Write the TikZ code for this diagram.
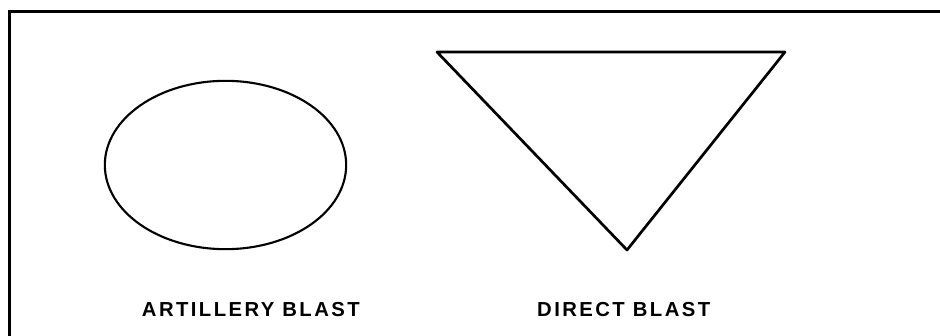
\documentclass[tikz,border=0pt]{standalone}
\usepackage{fontspec}
\setmainfont{Liberation Sans}[LetterSpace=12]
\usetikzlibrary{positioning,shapes.geometric}

\begin{document}
\begin{tikzpicture}[x=0.03cm,y=-0.03cm]
  \tikzset{
    frame/.style={draw=black,line width=2.5pt,line cap=rect},
    outline/.style={draw=black,line width=1.8pt,line join=round},
    caption/.style={anchor=base west,inner sep=0pt,font=\fontsize{17.3}{20}\selectfont\bfseries}
  }
  \useasboundingbox (0,0) rectangle (940,336);

  % Open frame.
  \coordinate (Fb) at (9.5,340);
  \coordinate (Fc) at (9.5,11.5);
  \coordinate (Fr) at (945,11.5);
  \draw[frame] (Fb) -- (Fc) -- (Fr);

  % Artillery blast.
  \node[outline,ellipse,minimum width=7.24cm,minimum height=5.05cm,inner sep=0pt] (Aell) at (225.5,165) {};
  \node[caption] (Atext) at (141.7,316.5) {ARTILLERY BLAST};

  % Direct blast.
  \coordinate (Dl) at (437,52);
  \coordinate (Dr) at (785,52);
  \coordinate (Dv) at (627,250);
  \draw[outline,line width=2.3pt] (Dl) -- (Dr) -- (Dv) -- cycle;
  \node[caption] (Dtext) at (537,316.5) {DIRECT BLAST};
\end{tikzpicture}
\end{document}
